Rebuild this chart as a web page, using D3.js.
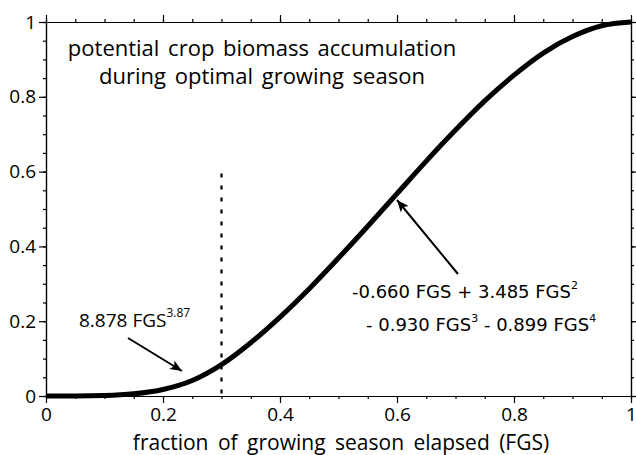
<html>
<head>
<meta charset="UTF-8">
<script src="https://cdn.jsdelivr.net/npm/d3@7"></script>
<style>
  body { margin: 0; background: #fff; }
  text { fill: #000; }
</style>
</head>
<body>
<div id="chart"></div>
<script>
// values
var fgs = [0, 0.05, 0.1, 0.15, 0.2, 0.25, 0.3, 0.35, 0.4, 0.45, 0.5, 0.55, 0.6, 0.65, 0.7, 0.75, 0.8, 0.85, 0.9, 0.95, 1];
var biomass = [0, 0.0001, 0.0012, 0.0058, 0.0175, 0.0415, 0.084, 0.1425, 0.211, 0.287, 0.369, 0.454, 0.541, 0.628, 0.711, 0.789, 0.858, 0.917, 0.961, 0.99, 1];
var majorTicks = [0, 0.2, 0.4, 0.6, 0.8, 1];
var minorTicks = d3.range(0, 1.0001, 0.05);
var tickLabels = ["0", "0.2", "0.4", "0.6", "0.8", "1"];
var splitFGS = 0.3, splitTop = 0.595;

var W = 636, H = 455;
var mLeft = 46, mRight = 631, mTop = 22, mBottom = 396;
var FONT = "'Open Sans', Lato, sans-serif";

var svg = d3.select("#chart").append("svg").attr("width", W).attr("height", H);
var x = d3.scaleLinear().domain([0, 1]).range([mLeft, mRight]);
var y = d3.scaleLinear().domain([0, 1]).range([mBottom, mTop]);

function fmt(d) { return tickLabels[majorTicks.indexOf(d)]; }

// minor ticks first, then major ticks with labels
function axes(g, sz, labelled) {
  var tv = labelled ? majorTicks : minorTicks;
  g.append("g").attr("transform", "translate(0," + mBottom + ")")
    .call(d3.axisBottom(x).tickValues(tv).tickSize(sz).tickSizeOuter(0).tickPadding(5).tickFormat(labelled ? fmt : ""));
  g.append("g").attr("transform", "translate(" + mLeft + ",0)")
    .call(d3.axisLeft(y).tickValues(tv).tickSize(sz).tickSizeOuter(0).tickPadding(3).tickFormat(labelled ? fmt : ""));
  g.append("g").attr("transform", "translate(0," + mTop + ")")
    .call(d3.axisTop(x).tickValues(tv).tickSize(sz).tickSizeOuter(0).tickFormat(""));
  g.append("g").attr("transform", "translate(" + mRight + ",0)")
    .call(d3.axisRight(y).tickValues(tv).tickSize(sz).tickSizeOuter(0).tickFormat(""));
}
var ax = svg.append("g");
axes(ax, 3, false);
axes(ax, 7, true);
ax.selectAll("path, line").attr("stroke", "#000").attr("stroke-width", 1.2);
ax.selectAll("text").attr("font-family", FONT).attr("font-size", 19).attr("fill", "#000");

// dotted marker at the formula switch
svg.append("line")
  .attr("x1", x(splitFGS)).attr("x2", x(splitFGS))
  .attr("y1", y(splitTop)).attr("y2", y(0))
  .attr("stroke", "#000").attr("stroke-width", 2.2).attr("stroke-dasharray", "4,8");

// curve
var line = d3.line().x(function (d, i) { return x(fgs[i]); }).y(function (d) { return y(d); }).curve(d3.curveMonotoneX);
svg.append("path").datum(biomass).attr("d", line)
  .attr("fill", "none").attr("stroke", "#000").attr("stroke-width", 5).attr("stroke-linejoin", "round");

// arrows
svg.append("defs").append("marker").attr("id", "ah")
  .attr("viewBox", "0 0 12 10").attr("refX", 12).attr("refY", 5)
  .attr("markerWidth", 12).attr("markerHeight", 10).attr("markerUnits", "userSpaceOnUse")
  .attr("orient", "auto")
  .append("path").attr("d", "M0,0 L12,5 L0,10 L3,5 Z").attr("fill", "#000");

svg.append("line").attr("x1", 128).attr("y1", 338).attr("x2", 182).attr("y2", 371)
  .attr("stroke", "#000").attr("stroke-width", 2).attr("marker-end", "url(#ah)");
svg.append("line").attr("x1", 458).attr("y1", 274).attr("x2", 397).attr("y2", 200)
  .attr("stroke", "#000").attr("stroke-width", 2).attr("marker-end", "url(#ah)");

// titles
var t = svg.append("text").attr("font-family", FONT).attr("font-size", 22)
  .attr("text-anchor", "middle").attr("word-spacing", 3);
t.append("tspan").attr("x", 262).attr("y", 56).text("potential crop biomass accumulation");
t.append("tspan").attr("x", 262).attr("y", 84).text("during optimal growing season");

svg.append("text").attr("font-family", FONT).attr("font-size", 21)
  .attr("text-anchor", "middle").attr("word-spacing", 4)
  .attr("x", 341).attr("y", 450)
  .text("fraction of growing season elapsed (FGS)");

// formula labels
var f1 = svg.append("text").attr("font-family", FONT).attr("font-size", 19).attr("x", 79).attr("y", 327);
f1.append("tspan").text("8.878 FGS");
f1.append("tspan").attr("font-size", 12).attr("dy", -10).text("3.87");

var SANS = "'DejaVu Sans', Verdana, sans-serif";
var f2 = svg.append("text").attr("font-family", SANS).attr("font-size", 18).attr("x", 352).attr("y", 298);
f2.append("tspan").text("-0.660 FGS + 3.485 FGS");
f2.append("tspan").attr("font-size", 11).attr("dy", -9).text("2");
var f3 = svg.append("text").attr("font-family", SANS).attr("font-size", 18).attr("x", 366).attr("y", 331);
f3.append("tspan").text("- 0.930 FGS");
f3.append("tspan").attr("font-size", 11).attr("dy", -9).text("3");
f3.append("tspan").attr("dy", 9).text(" - 0.899 FGS");
f3.append("tspan").attr("font-size", 11).attr("dy", -9).text("4");
</script>
</body>
</html>
